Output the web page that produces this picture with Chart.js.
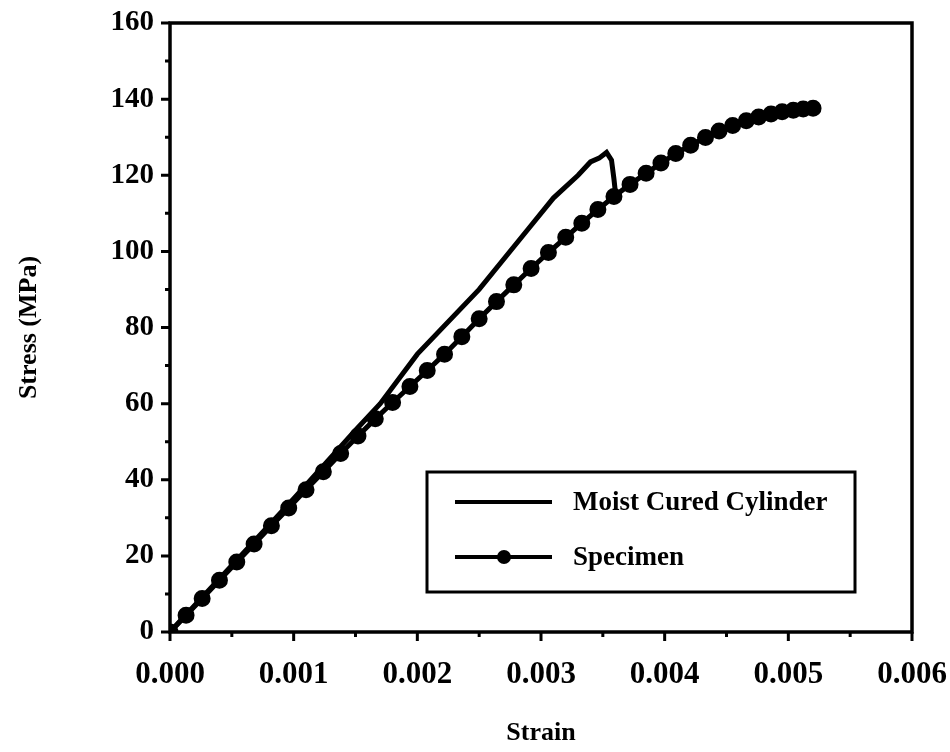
<!DOCTYPE html>
<html lang="en">

<head>
    <meta charset="UTF-8">
    <title>Stress-Strain</title>
    <script src="https://cdn.jsdelivr.net/npm/chart.js"></script>
    <style>
        body { margin: 0; background: #fff; }
    </style>
</head>

<body>
    <div style="width: 950px; height: 752px;">
        <canvas id="myChart"></canvas>
    </div>
    <script>
        // values
        const seriesNames = ['Moist Cured Cylinder', 'Specimen'];

        const moistStrain = [0, 0.0005, 0.001, 0.0015, 0.0017, 0.002, 0.0025, 0.0029, 0.0031, 0.0033, 0.0034, 0.00347, 0.00353, 0.00357, 0.00359, 0.0036];
        const moistStress = [0, 17.5, 35, 53, 60, 73, 90, 106, 114, 120, 123.5, 124.5, 126, 124, 119, 116];

        const specStrain = [0, 0.00013, 0.00026, 0.0004, 0.00054, 0.00068, 0.00082, 0.00096, 0.0011, 0.00124,
            0.00138, 0.00152, 0.00166, 0.0018, 0.00194, 0.00208, 0.00222, 0.00236, 0.0025, 0.00264,
            0.00278, 0.00292, 0.00306, 0.0032, 0.00333, 0.00346, 0.00359, 0.00372, 0.00385, 0.00397,
            0.00409, 0.00421, 0.00433, 0.00444, 0.00455, 0.00466, 0.00476, 0.00486, 0.00495, 0.00504,
            0.00512, 0.0052];
        const specStress = [0, 4.4, 8.8, 13.6, 18.4, 23.1, 27.9, 32.6, 37.4, 42.1,
            46.9, 51.5, 56, 60.3, 64.5, 68.7, 73, 77.6, 82.3, 86.8,
            91.2, 95.5, 99.7, 103.7, 107.4, 111, 114.4, 117.6, 120.5, 123.2,
            125.7, 127.9, 129.9, 131.6, 133.1, 134.3, 135.3, 136.1, 136.7, 137.1,
            137.4, 137.6];

        const xTicks = [0, 0.001, 0.002, 0.003, 0.004, 0.005, 0.006];
        const yTicks = [0, 20, 40, 60, 80, 100, 120, 140, 160];

        const serif = '"Liberation Serif", "DejaVu Serif", serif';

        function toPoints(xs, ys) {
            return xs.map((x, i) => ({ x: x, y: ys[i] }));
        }

        // frame, outward ticks (major + minor) and the boxed legend
        const framePlugin = {
            id: 'frame',
            afterDraw(chart) {
                const ctx = chart.ctx;
                const a = chart.chartArea;
                const xs = chart.scales.x;
                const ys = chart.scales.y;
                ctx.save();
                ctx.strokeStyle = '#000';
                ctx.lineWidth = 3.5;
                ctx.strokeRect(a.left, a.top, a.right - a.left, a.bottom - a.top);

                ctx.lineWidth = 3;
                ctx.beginPath();
                for (let i = 0; i < xTicks.length; i++) {
                    const px = xs.getPixelForValue(xTicks[i]);
                    ctx.moveTo(px, a.bottom);
                    ctx.lineTo(px, a.bottom + 9);
                    if (i < xTicks.length - 1) {
                        const mx = xs.getPixelForValue((xTicks[i] + xTicks[i + 1]) / 2);
                        ctx.moveTo(mx, a.bottom);
                        ctx.lineTo(mx, a.bottom + 5);
                    }
                }
                for (let i = 0; i < yTicks.length; i++) {
                    const py = ys.getPixelForValue(yTicks[i]);
                    ctx.moveTo(a.left, py);
                    ctx.lineTo(a.left - 9, py);
                    if (i < yTicks.length - 1) {
                        const my = ys.getPixelForValue((yTicks[i] + yTicks[i + 1]) / 2);
                        ctx.moveTo(a.left, my);
                        ctx.lineTo(a.left - 5, my);
                    }
                }
                ctx.stroke();

                // legend box
                const bx = a.left + 257, by = a.top + 449, bw = 428, bh = 120;
                ctx.lineWidth = 3;
                ctx.strokeRect(bx, by, bw, bh);
                const rows = [by + 30, by + 85];
                ctx.font = 'bold 27px ' + serif;
                ctx.textBaseline = 'middle';
                ctx.fillStyle = '#000';
                chart.data.datasets.forEach((ds, i) => {
                    ctx.lineWidth = 4;
                    ctx.beginPath();
                    ctx.moveTo(bx + 28, rows[i]);
                    ctx.lineTo(bx + 125, rows[i]);
                    ctx.stroke();
                    if (ds.pointRadius > 0) {
                        ctx.beginPath();
                        ctx.arc(bx + 77, rows[i], 7, 0, Math.PI * 2);
                        ctx.fill();
                    }
                    ctx.fillText(ds.label, bx + 146, rows[i] + 1);
                });
                ctx.restore();
            }
        };

        new Chart(document.getElementById('myChart'), {
            type: 'scatter',
            data: {
                datasets: [{
                    label: seriesNames[0],
                    data: toPoints(moistStrain, moistStress),
                    showLine: true,
                    borderColor: '#000',
                    borderWidth: 5,
                    pointRadius: 0,
                    tension: 0
                }, {
                    label: seriesNames[1],
                    data: toPoints(specStrain, specStress),
                    showLine: true,
                    borderColor: '#000',
                    backgroundColor: '#000',
                    borderWidth: 5,
                    pointRadius: 6,
                    pointBackgroundColor: '#000',
                    tension: 0
                }]
            },
            options: {
                responsive: true,
                maintainAspectRatio: false,
                animation: false,
                layout: { padding: { top: 23, right: 38, left: 0, bottom: 0 } },
                plugins: {
                    legend: { display: false },
                    tooltip: { enabled: false }
                },
                scales: {
                    x: {
                        type: 'linear',
                        min: 0,
                        max: 0.006,
                        afterFit: (s) => { s.height = 120; s.paddingLeft = 0; s.paddingRight = 0; },
                        afterBuildTicks: (s) => { s.ticks = xTicks.map(v => ({ value: v })); },
                        grid: { display: false },
                        border: { display: false },
                        ticks: {
                            color: '#000',
                            padding: 16,
                            maxRotation: 0,
                            font: { family: serif, size: 31, weight: 'bold' },
                            callback: (v) => v.toFixed(3)
                        },
                        title: {
                            display: true,
                            text: 'Strain',
                            color: '#000',
                            font: { family: serif, size: 26, weight: 'bold' },
                            padding: { top: 0, bottom: 3 }
                        }
                    },
                    y: {
                        min: 0,
                        max: 160,
                        afterFit: (s) => { s.width = 170; s.paddingTop = 0; s.paddingBottom = 0; },
                        afterBuildTicks: (s) => { s.ticks = yTicks.map(v => ({ value: v })); },
                        grid: { display: false },
                        border: { display: false },
                        ticks: {
                            color: '#000',
                            padding: 8,
                            font: { family: serif, size: 29, weight: 'bold' }
                        },
                        title: {
                            display: true,
                            text: 'Stress (MPa)',
                            color: '#000',
                            font: { family: serif, size: 26, weight: 'bold' },
                            padding: { top: 14, bottom: 0 }
                        }
                    }
                }
            },
            plugins: [framePlugin]
        });
    </script>
</body>

</html>
